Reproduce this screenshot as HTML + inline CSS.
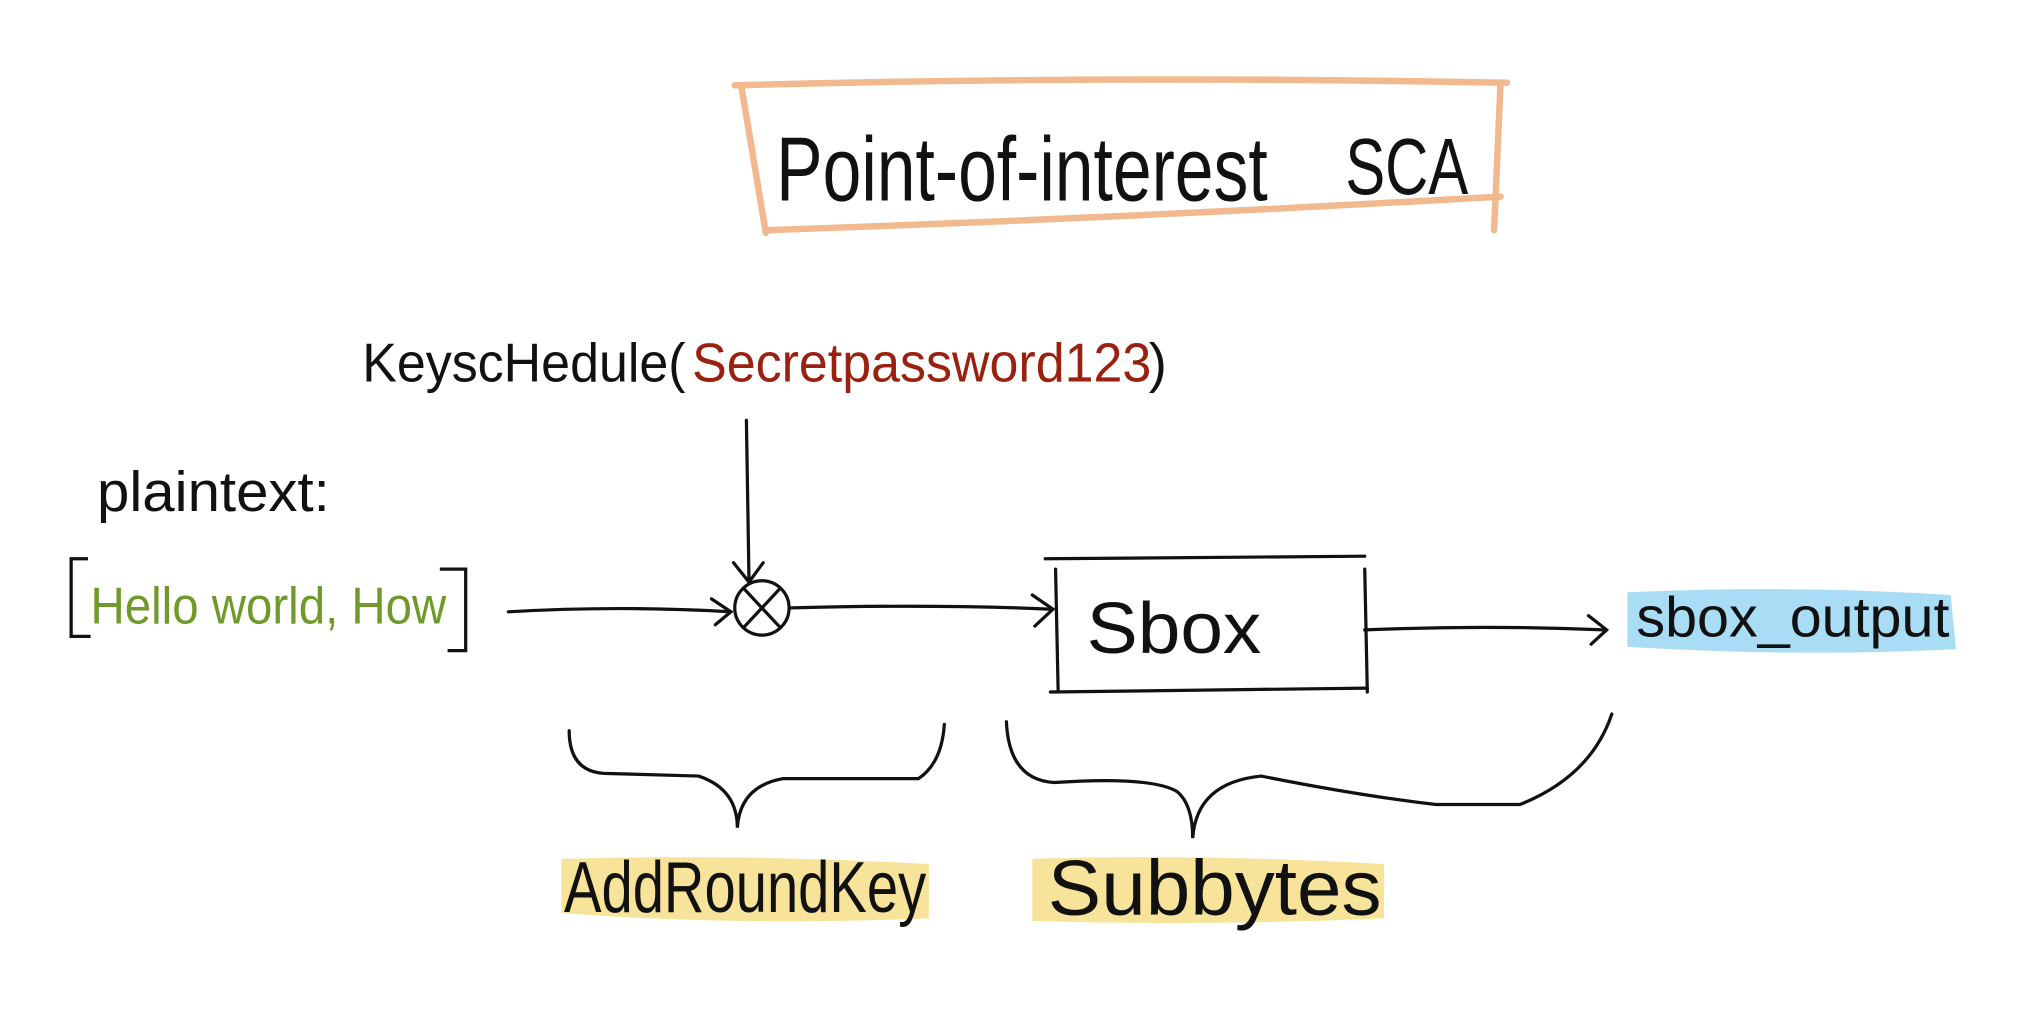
<!DOCTYPE html>
<html><head><meta charset="utf-8"><style>
html,body{margin:0;padding:0;background:#fff;}
svg{display:block;}
text{font-family:"Liberation Sans",sans-serif;}
</style></head><body>
<svg width="2018" height="1027" viewBox="0 0 1560 794" preserveAspectRatio="none" xmlns="http://www.w3.org/2000/svg">
<g fill="none" stroke="#f2b88e" stroke-width="5" stroke-linecap="round">
<path d="M568 66 Q860 58 1165 64"/>
<path d="M573 66 L592 180"/>
<path d="M592 178 Q880 168 1160 152"/>
<path d="M1160 64 L1155 178"/>
</g>
<text x="600" y="155" font-size="70" fill="#111" textLength="380" lengthAdjust="spacingAndGlyphs">Point-of-interest</text>
<text x="1040" y="150" font-size="62" fill="#111" textLength="95" lengthAdjust="spacingAndGlyphs">SCA</text>

<text x="280" y="295" font-size="42" fill="#111" textLength="250" lengthAdjust="spacingAndGlyphs">KeyscHedule(</text>
<text x="535" y="295" font-size="42" fill="#9a2010" textLength="355" lengthAdjust="spacingAndGlyphs">Secretpassword123</text>
<text x="888" y="295" font-size="42" fill="#111">)</text>

<text x="75" y="395" font-size="44" fill="#111" textLength="180" lengthAdjust="spacingAndGlyphs">plaintext:</text>
<g fill="none" stroke="#111" stroke-width="2.5">
<path d="M68 432 L55 432 L55 492 L70 492"/>
<path d="M340 440 L360 440 L360 503 L346 503"/>
</g>
<text x="70" y="482" font-size="40" fill="#6f9a2a" textLength="275" lengthAdjust="spacingAndGlyphs">Hello world, How</text>

<g fill="none" stroke="#111" stroke-width="2.5" stroke-linecap="round">
<path d="M393 473 Q480 468 565 473"/>
<path d="M550 463 L565 473 L553 483"/>
<path d="M577 325 L579 448"/>
<path d="M567 435 L579 450 L590 435"/>
<circle cx="589" cy="470" r="21"/>
<path d="M575 455 L603 485 M603 455 L575 485"/>
<path d="M612 470 Q720 467 813 471"/>
<path d="M798 460 L814 471 L800 484"/>
<path d="M808 432 L1055 430"/>
<path d="M816 440 L818 535"/>
<path d="M1055 440 L1057 535"/>
<path d="M812 535 L1057 532"/>
<path d="M1055 487 Q1150 483 1240 487"/>
<path d="M1228 476 L1242 487 L1230 498"/>
<path d="M440 565 Q440 598 470 598 L540 600 Q570 610 570 640 Q572 608 605 602 L710 602 Q728 590 730 560"/>
<path d="M778 558 Q780 603 815 605 Q890 600 910 612 Q922 622 922 648 Q925 605 975 600 Q1050 615 1110 622 L1175 622 Q1230 600 1246 552"/>
</g>
<text x="840" y="505" font-size="56" fill="#111" textLength="135" lengthAdjust="spacingAndGlyphs">Sbox</text>

<path d="M1258 458 Q1380 452 1508 460 L1512 502 Q1380 508 1258 500 Z" fill="#a9dcf5"/>
<text x="1265" y="492" font-size="44" fill="#111" textLength="242" lengthAdjust="spacingAndGlyphs">sbox_output</text>

<path d="M434 664 Q570 660 718 668 L718 710 Q570 716 434 706 Z" fill="#f7e49a"/>
<path d="M798 664 Q930 660 1070 668 L1070 710 Q930 716 798 712 Z" fill="#f7e49a"/>
<text x="436" y="705" font-size="56" fill="#111" textLength="280" lengthAdjust="spacingAndGlyphs">AddRoundKey</text>
<text x="810" y="707" font-size="60" fill="#111" textLength="258" lengthAdjust="spacingAndGlyphs">Subbytes</text>
</svg>
</body></html>
